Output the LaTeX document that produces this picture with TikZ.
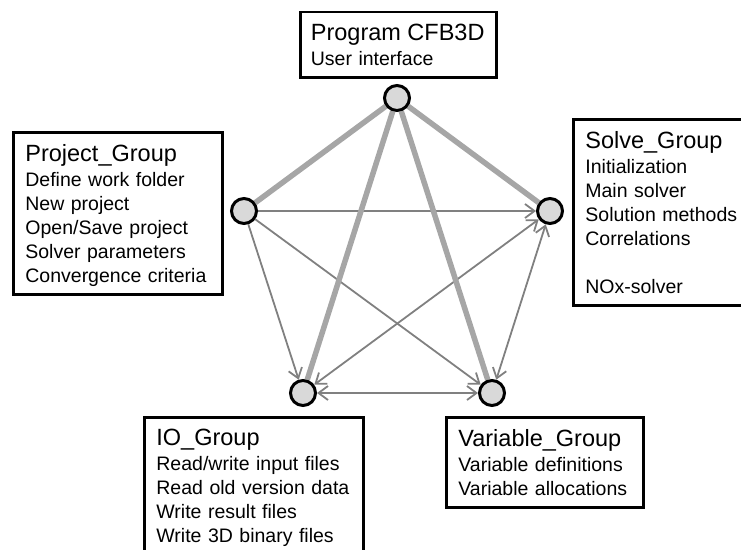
\documentclass[tikz,border=0pt]{standalone}
\usepackage{fontspec}
\setmainfont{Liberation Sans}
\usetikzlibrary{arrows.meta}
\usetikzlibrary{backgrounds}

\definecolor{hubfill}{HTML}{D9D9D9}
\definecolor{spokegray}{HTML}{A6A6A6}
\definecolor{linkgray}{HTML}{808080}
\newcommand{\grouptitle}{\fontsize{23.5}{24}\selectfont}

\begin{document}
\begin{tikzpicture}[x=1pt,y=-1pt,
    groupbox/.style={draw, line width=2.8pt, anchor=north west, align=left,
        inner xsep=12pt, inner ysep=12pt,
        font=\fontsize{19.5}{24}\selectfont},
    hub/.style={circle, draw, line width=3pt, fill=hubfill, minimum size=25pt, inner sep=0pt},
    spoke/.style={spokegray, line width=5.5pt},
    link/.style={linkgray, line width=1.8pt, -{Straight Barb[length=9.5pt,width=14pt]}},
    twoway/.style={link, {Straight Barb[length=9.5pt,width=14pt]}-{Straight Barb[length=9.5pt,width=14pt]}}]
    \useasboundingbox (0,0) rectangle (741,549);

    % hubs
    \node[hub] (hprog)  at (397,98)  {};
    \node[hub] (hproj)  at (244,211) {};
    \node[hub] (hsolve) at (550,211) {};
    \node[hub] (hio)    at (303,393) {};
    \node[hub] (hvar)   at (492,393) {};

    % group boxes (text depth = first to last baseline)
    \node[groupbox, inner xsep=10.5pt, text width=175pt, text depth=25pt] (prog) at (299,10.5)
        {{\grouptitle Program CFB3D}\\[1pt] User interface};
    \node[groupbox, text width=185pt, text depth=121pt] (projbox) at (12,131)
        {{\grouptitle Project\_Group}\\[1pt] Define work folder\\ New project\\
         Open/Save project\\ Solver parameters\\ Convergence criteria};
    \node[groupbox, text width=190pt, text depth=145pt] (solvebox) at (572,118)
        {{\grouptitle Solve\_Group}\\[1pt] Initialization\\ Main solver\\
         Solution methods\\ Correlations\\[24pt] NOx-solver};
    \node[groupbox, text width=195pt, text depth=140pt] (iobox) at (143,416)
        {{\grouptitle IO\_Group}\\[1pt] Read/write input files\\ Read old version data\\
         Write result files\\ Write 3D binary files};
    \node[groupbox, text width=173pt, text depth=49pt] (varbox) at (445,416)
        {{\grouptitle Variable\_Group}\\[1pt] Variable definitions\\ Variable allocations};

    \begin{scope}[on background layer]
        \path[link]
        (hproj) edge (hsolve)
        (hproj) edge (hio)
        (hproj) edge (hvar);
        \path[twoway]
        (hsolve) edge (hio)
        (hsolve) edge (hvar)
        (hio) edge (hvar);
        \path[spoke]
        (hprog) edge (hproj)
        (hprog) edge (hsolve)
        (hprog) edge (hio)
        (hprog) edge (hvar);
    \end{scope}
\end{tikzpicture}
\end{document}
